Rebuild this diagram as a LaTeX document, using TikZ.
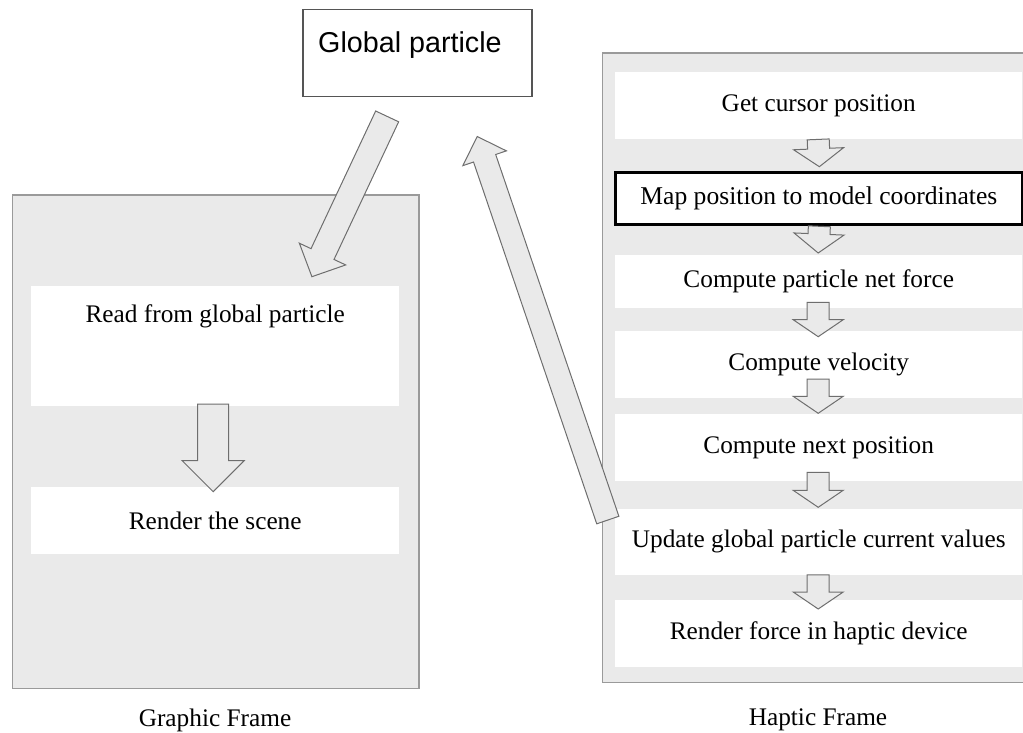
\documentclass[tikz,border=0pt]{standalone}
\usepackage{fontspec}
\setmainfont{Liberation Serif}
\newfontfamily\gpsans{Liberation Sans}
\usetikzlibrary{calc}
\definecolor{framefill}{HTML}{EAEAEA}
\definecolor{frameline}{HTML}{9A9A9A}
\definecolor{arrowline}{HTML}{6E6E6E}
\definecolor{gpline}{HTML}{555555}
\tikzset{
  frame/.style={draw=frameline, fill=framefill, line width=1.5pt, anchor=north west, inner sep=0pt},
  wbox/.style={fill=white, anchor=north west, inner sep=0pt, font=\fontsize{25.3}{28}\selectfont},
  mapbox/.style={draw=black, fill=white, line width=3pt, anchor=north west, inner sep=0pt, font=\fontsize{25.6}{28}\selectfont},
  txt/.style={inner sep=0pt, font=\fontsize{25.3}{28}\selectfont},
  barrow/.style={draw=arrowline, fill=framefill, line width=1pt, line join=miter},
}
% block arrow: from, to, half shaft width, half head width, head length
\newcommand\bigarrow[5]{%
  \coordinate (bah) at ($(#2)!#5!(#1)$);
  \draw[barrow] ($(#1)!#3!90:(#2)$) -- ($(bah)!#3!90:(#2)$) -- ($(bah)!#4!90:(#2)$)
    -- (#2) -- ($(bah)!#4!-90:(#2)$) -- ($(bah)!#3!-90:(#2)$) -- ($(#1)!#3!-90:(#2)$) -- cycle;
}
\begin{document}
\begin{tikzpicture}[x=1pt, y=-1pt]
\useasboundingbox (0,0) rectangle (1023,733);

% global particle
\node[draw=gpline, fill=white, line width=1.5pt, anchor=north west, inner sep=0pt,
      minimum width=229pt, minimum height=87pt] (gp) at (302,9) {};
\node[anchor=base west, inner sep=0pt, font=\gpsans\fontsize{28.7}{32}\selectfont] (gpt) at (318,53) {Global particle};

% graphic frame
\node[frame, minimum width=406.3pt, minimum height=493.7pt] (gf) at (11.7,194) {};
\node[wbox, minimum width=368pt, minimum height=119.7pt] (lb1) at (31,286) {};
\node[txt, anchor=north] (lb1t) at ($(lb1.north)+(0,18)$) {Read from global particle};
\node[wbox, minimum width=368pt, minimum height=67.3pt] (lb2) at (31,486.7) {Render the scene};
\node[txt] (gflab) at (215,720) {Graphic Frame};

% haptic frame
\node[frame, minimum width=440pt, minimum height=629.4pt] (hf) at (601.7,52.3) {};
\node[wbox, minimum width=407pt, minimum height=67.3pt] (hb1) at (615,71.7) {Get cursor position};
\node[mapbox, minimum width=406.7pt, minimum height=52.6pt] (hb2) at (614,170.7) {Map position to model coordinates};
\node[wbox, minimum width=407pt, minimum height=53pt] (hb3) at (615,255) {Compute particle net force};
\node[wbox, minimum width=407pt, minimum height=67pt] (hb4) at (615,330.7) {Compute velocity};
\node[wbox, minimum width=407pt, minimum height=67.7pt] (hb5) at (615,413.3) {Compute next position};
\node[wbox, minimum width=407pt, minimum height=66.7pt] (hb6) at (615,508.3) {Update global particle current values};
\node[wbox, minimum width=407pt, minimum height=66.7pt] (hb7) at (615,600) {Render force in haptic device};
\node[txt] (hflab) at (818,720) {Haptic Frame};

% arrow end points
\coordinate (a1s) at ($(hb1.south)+(-0.5,0)$);
\coordinate (a1e) at ($(hb2.north)+(0.5,-4)$);
\coordinate (a2s) at ($(hb2.south)+(0.5,0)$);
\coordinate (a2e) at ($(hb3.north)+(-0.5,-2)$);
\coordinate (a3s) at ($(hb3.south)+(-0.5,-6)$);
\coordinate (a3e) at ($(hb4.north)+(-0.5,6)$);
\coordinate (a4s) at ($(hb4.south)+(-0.5,-19)$);
\coordinate (a4e) at ($(hb5.north)+(-0.5,0)$);
\coordinate (a5s) at ($(hb5.south)+(-0.5,-9)$);
\coordinate (a5e) at ($(hb6.north)+(-0.5,-1)$);
\coordinate (a6s) at ($(hb6.south)+(-0.5,-0.5)$);
\coordinate (a6e) at ($(hb7.north)+(-0.5,9)$);
\coordinate (l1s) at ($(lb1.south)+(-2,-2)$);
\coordinate (l1e) at ($(lb2.north)+(-2,5)$);
\coordinate (gAs) at ($(gp.south)+(-30.1,18.9)$);
\coordinate (gAe) at ($(lb1.north)+(96.7,-9.3)$);
\coordinate (gBs) at ($(hf.west)+(6.1,152.3)$);
\coordinate (gBe) at ($(gp.south east)+(-55.3,39)$);

\bigarrow{a1s}{a1e}{11pt}{25pt}{18pt}
\bigarrow{a2s}{a2e}{11pt}{25pt}{19pt}
\bigarrow{a3s}{a3e}{11pt}{25pt}{17pt}
\bigarrow{a4s}{a4e}{11pt}{25pt}{17pt}
\bigarrow{a5s}{a5e}{11pt}{25pt}{17pt}
\bigarrow{a6s}{a6e}{11pt}{25pt}{17pt}
\bigarrow{l1s}{l1e}{15.5pt}{31pt}{31pt}
\bigarrow{gAs}{gAe}{12.7pt}{25.6pt}{25pt}
\bigarrow{gBs}{gBe}{11.7pt}{23pt}{23pt}
\end{tikzpicture}
\end{document}
